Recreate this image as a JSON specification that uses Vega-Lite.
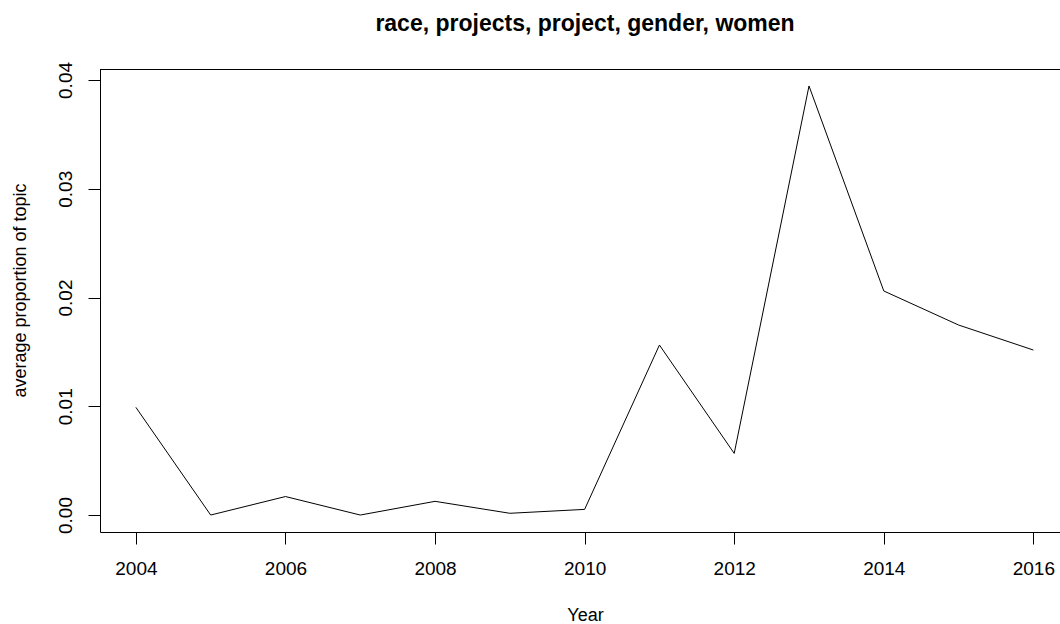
{
  "$schema": "https://vega.github.io/schema/vega-lite/v6.json",
  "autosize": {"type": "none"},
  "padding": {"left": 100, "top": 69, "right": 0, "bottom": 92},
  "width": 960,
  "height": 463,
  "background": "white",
  "view": {"stroke": "transparent", "fill": "white"},
  "config": {
    "view": {"stroke": "transparent"},
    "font": "Liberation Sans",
    "axis": {"grid": false, "domainColor": "#000", "tickColor": "#000", "labelColor": "#000", "titleColor": "#000", "titleFontWeight": "normal", "domainWidth": 1, "tickWidth": 1}
  },
  "title": {
    "text": "race, projects, project, gender, women",
    "fontSize": 23,
    "fontWeight": "bold",
    "color": "#000",
    "anchor": "middle",
    "dx": 5,
    "offset": 25
  },
  "data": {
    "values": [
      {"Year": 2004, "proportion": 0.0099},
      {"Year": 2005, "proportion": 0.0},
      {"Year": 2006, "proportion": 0.0017},
      {"Year": 2007, "proportion": 0.0},
      {"Year": 2008, "proportion": 0.00126},
      {"Year": 2009, "proportion": 0.00016},
      {"Year": 2010, "proportion": 0.00052},
      {"Year": 2011, "proportion": 0.01563},
      {"Year": 2012, "proportion": 0.00567},
      {"Year": 2013, "proportion": 0.03945},
      {"Year": 2014, "proportion": 0.0206},
      {"Year": 2015, "proportion": 0.01747},
      {"Year": 2016, "proportion": 0.01517}
    ]
  },
  "layer": [
    {
      "mark": {"type": "line", "color": "#000", "strokeWidth": 1, "clip": true},
      "encoding": {
        "x": {
          "field": "Year", "type": "quantitative",
          "scale": {"domain": [2003.52, 2016.356], "nice": false, "zero": false},
          "axis": {"title": "Year", "titleFontSize": 18, "titlePadding": 28, "titleX": 485, "values": [2004, 2006, 2008, 2010, 2012, 2014, 2016], "format": "d", "tickSize": 12, "labelFontSize": 19, "labelPadding": 15}
        },
        "y": {
          "field": "proportion", "type": "quantitative",
          "scale": {"domain": [-0.00156, 0.04101], "nice": false, "zero": false},
          "axis": {"title": "average proportion of topic", "titleFontSize": 18, "titlePadding": 27, "titleY": 221, "values": [0, 0.01, 0.02, 0.03, 0.04], "format": ".2f", "tickSize": 12, "labelFontSize": 19, "labelAngle": -90, "labelAlign": "center", "labelBaseline": "bottom", "labelPadding": 13}
        }
      }
    },
    {
      "mark": {"type": "rule", "color": "#000", "strokeWidth": 1, "yOffset": 0.5},
      "encoding": {
        "y": {"datum": 0.04101, "type": "quantitative"}
      }
    }
  ]
}
